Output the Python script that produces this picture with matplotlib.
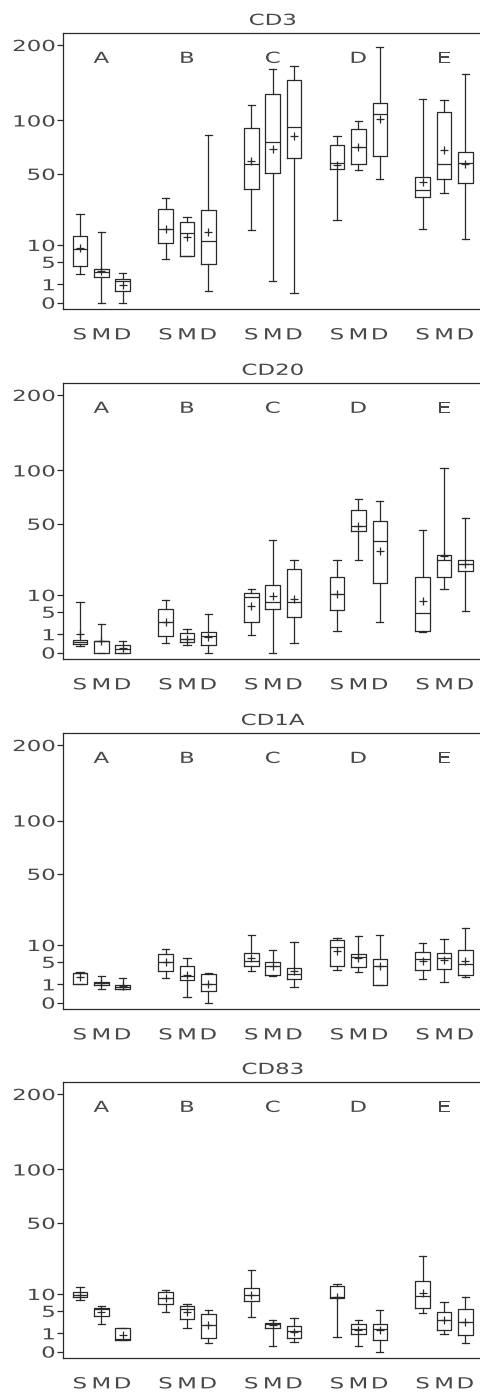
import numpy as np
import matplotlib
matplotlib.use("Agg")
import matplotlib.pyplot as plt
from matplotlib import patheffects
from matplotlib.transforms import Affine2D

# boxes in order A-S, A-M, A-D, B-S, ... E-D
groups = ["A", "B", "C", "D", "E"]
subs = ["S", "M", "D"]
yticks = [0, 1, 5, 10, 50, 100, 200]
titles = ["CD3", "CD20", "CD1A", "CD83"]

cd3_lo = [2.5, 0, 0, 5.6, 6.5, 0.43, 15.7, 1.4, 0.3, 20.5, 52.9, 45.7, 16.4, 36.3, 12.2]
cd3_q1 = [4.0, 1.9, 0.43, 10.8, 6.5, 4.4, 39.0, 50.8, 62.9, 53.4, 57.5, 64.4, 33.5, 45.7, 43.2]
cd3_med = [8.7, 2.8, 1.46, 16.1, 14.7, 11.6, 57.8, 77.9, 93.2, 58.9, 72.8, 107.5, 37.9, 57.8, 58.9]
cd3_mean = [9.0, 3.0, 0.9, 16.5, 12.9, 14.9, 60.3, 70.7, 83.2, 56.9, 72.8, 101.8, 43.7, 69.8, 58.3]
cd3_q3 = [13.3, 3.4, 1.74, 26.3, 19.5, 25.7, 92.1, 131.5, 148.8, 75.0, 91.1, 120.4, 47.9, 109.4, 68.2]
cd3_hi = [23.7, 15.1, 2.66, 32.9, 22.2, 84.9, 118, 165, 169, 83.5, 99.6, 196.8, 125.2, 124, 157.4]

cd20_lo = [0.12, 0, 0, 0.28, 0.19, 0, 0.91, 0, 0.28, 1.46, 25.9, 2.72, 1.25, 12.1, 5.24]
cd20_q1 = [0.24, 0, 0, 0.81, 0.34, 0.19, 2.9, 5.67, 3.7, 5.41, 44.4, 14.5, 1.42, 17.0, 20.0]
cd20_med = [0.34, 0.4, 0.04, 2.78, 0.54, 0.81, 9.24, 7.55, 7.55, 10.5, 48.4, 37.4, 4.59, 25.9, 23.6]
cd20_mean = [0.98, 0.38, 0.05, 2.78, 0.59, 0.77, 6.39, 9.8, 8.7, 10.3, 48.4, 30.8, 8.06, 28.0, 23.6]
cd20_q3 = [0.48, 0.41, 0.19, 5.84, 1.17, 1.29, 10.75, 13.8, 21.0, 17.0, 60.9, 51.8, 17.0, 28.6, 25.9]
cd20_hi = [7.55, 2.42, 0.41, 8.37, 1.69, 4.51, 12.2, 37.9, 25.9, 25.6, 71.0, 69.4, 45.4, 102.6, 54.7]

cd1a_lo = [1.05, 0.54, 0.54, 1.84, 0.11, 0, 3.09, 2.15, 0.77, 3.29, 2.9, 0.94, 1.69, 1.33, 1.99]
cd1a_q1 = [1.05, 0.98, 0.59, 3.03, 1.55, 0.39, 4.06, 2.31, 1.64, 4.06, 3.91, 0.94, 3.29, 3.49, 2.37]
cd1a_med = [2.6, 1.13, 0.77, 4.99, 2.15, 1.05, 5.24, 3.99, 2.48, 9.24, 6.2, 3.99, 5.76, 6.11, 4.44]
cd1a_mean = [2.04, 1.13, 0.8, 5.07, 2.26, 1.05, 6.11, 3.99, 3.03, 7.96, 6.02, 3.99, 5.33, 5.5, 5.33]
cd1a_q3 = [2.66, 1.33, 0.98, 7.05, 4.06, 2.42, 7.45, 4.91, 3.63, 11.9, 7.05, 5.84, 7.65, 7.35, 8.27]
cd1a_hi = [2.84, 2.09, 1.79, 8.7, 6.11, 2.66, 13.8, 8.37, 10.9, 12.5, 13.4, 13.7, 10.75, 12.2, 16.8]

cd83_lo = [7.96, 2.37, 0.39, 4.83, 1.64, 0.21, 3.63, 0.09, 0.3, 0.68, 0.09, 0, 4.44, 0.94, 0.21]
cd83_q1 = [8.91, 3.84, 0.39, 6.76, 3.16, 0.56, 7.65, 1.74, 0.59, 8.8, 0.91, 0.37, 5.84, 1.37, 0.84]
cd83_med = [9.58, 5.41, 0.46, 8.7, 5.41, 2.2, 9.69, 2.26, 1.25, 9.13, 1.5, 1.6, 9.24, 2.96, 2.66]
cd83_mean = [9.58, 4.83, 0.84, 8.7, 4.67, 2.09, 9.69, 2.15, 1.2, 9.13, 1.42, 1.37, 10.5, 3.03, 2.6]
cd83_q3 = [10.75, 5.84, 1.74, 10.6, 6.39, 4.36, 12.37, 2.48, 2.04, 13.0, 2.31, 2.31, 14.9, 4.83, 5.58]
cd83_hi = [12.75, 6.3, 1.74, 11.6, 6.76, 5.24, 19.97, 2.96, 3.49, 13.96, 3.03, 5.33, 27.4, 7.35, 8.91]

panels = [
    (cd3_lo, cd3_q1, cd3_med, cd3_mean, cd3_q3, cd3_hi),
    (cd20_lo, cd20_q1, cd20_med, cd20_mean, cd20_q3, cd20_hi),
    (cd1a_lo, cd1a_q1, cd1a_med, cd1a_mean, cd1a_q3, cd1a_hi),
    (cd83_lo, cd83_q1, cd83_med, cd83_mean, cd83_q3, cd83_hi),
]


class Stretch(patheffects.AbstractPathEffect):
    # widen glyphs horizontally (the original uses a very wide stroke font)
    def __init__(self, sx=1.5, anchor="center"):
        super().__init__()
        self.sx = sx
        self.anchor = anchor

    def draw_path(self, renderer, gc, tpath, affine, rgbFace=None):
        ext = tpath.get_extents()
        if self.anchor == "right":
            x0 = ext.x1
        elif self.anchor == "left":
            x0 = ext.x0
        else:
            x0 = (ext.x0 + ext.x1) / 2
        t = Affine2D().translate(-x0, 0).scale(self.sx, 1).translate(x0, 0) + affine
        renderer.draw_path(gc, tpath, t, rgbFace)


def fwd(v):
    v = np.asarray(v, dtype=float)
    return np.sign(v) * np.sqrt(np.abs(v))


def inv(v):
    v = np.asarray(v, dtype=float)
    return np.sign(v) * v ** 2


ink = "#2a2a2a"
txt = "#484848"
fs = 11
plt.rcParams["font.family"] = "DejaVu Sans"

fig = plt.figure(figsize=(4.81, 13.92), dpi=100)
bottoms = [0.7778, 0.5264, 0.2749, 0.0242]
positions = [g * 4 + s + 1 for g in range(len(groups)) for s in range(len(subs))]

for k in range(4):
    lo, q1, med, mean, q3, hi = panels[k]
    ax = fig.add_axes([0.1304, bottoms[k], 0.873, 0.1983])
    ax.set_yscale("function", functions=(fwd, inv))
    stats = []
    for i in range(len(positions)):
        stats.append(dict(whislo=lo[i], q1=q1[i], med=med[i], mean=mean[i],
                          q3=q3[i], whishi=hi[i], fliers=[]))
    lp = dict(color=ink, linewidth=0.9)
    ax.bxp(stats, positions=positions, widths=0.68, capwidths=0.34,
           showmeans=True, manage_ticks=False,
           boxprops=lp, whiskerprops=lp, capprops=lp, medianprops=lp,
           meanprops=dict(marker="+", markersize=6, markeredgecolor=ink,
                          markeredgewidth=0.9, linestyle="none"))
    ax.set_xlim(0.2, 19.8)
    ax.set_ylim(-0.137, 218.7)

    ax.set_yticks(yticks)
    ax.set_yticklabels([str(t) for t in yticks])
    ax.set_xticks(positions)
    ax.set_xticklabels(subs * len(groups))
    ax.tick_params(axis="y", length=4, width=0.9, color=ink, pad=1.5,
                   labelsize=fs, labelcolor=txt)
    ax.tick_params(axis="x", length=0, pad=13, labelsize=fs, labelcolor=txt)
    for lab in ax.get_yticklabels():
        lab.set_path_effects([Stretch(1.5, "right")])
    for lab in ax.get_xticklabels():
        lab.set_path_effects([Stretch(1.5, "center")])

    for s in ["left", "top", "bottom"]:
        ax.spines[s].set_color(ink)
        ax.spines[s].set_linewidth(0.9)
    ax.spines["right"].set_visible(False)

    for g in range(len(groups)):
        ax.text(g * 4 + 2, 0.909, groups[g], transform=ax.get_xaxis_transform(),
                ha="center", va="center", fontsize=fs, color=txt,
                path_effects=[Stretch(1.5, "center")])

    t = ax.set_title(titles[k], fontsize=fs, color=txt, pad=6)
    t.set_path_effects([Stretch(1.5, "center")])

fig.savefig("out.png", dpi=100)
